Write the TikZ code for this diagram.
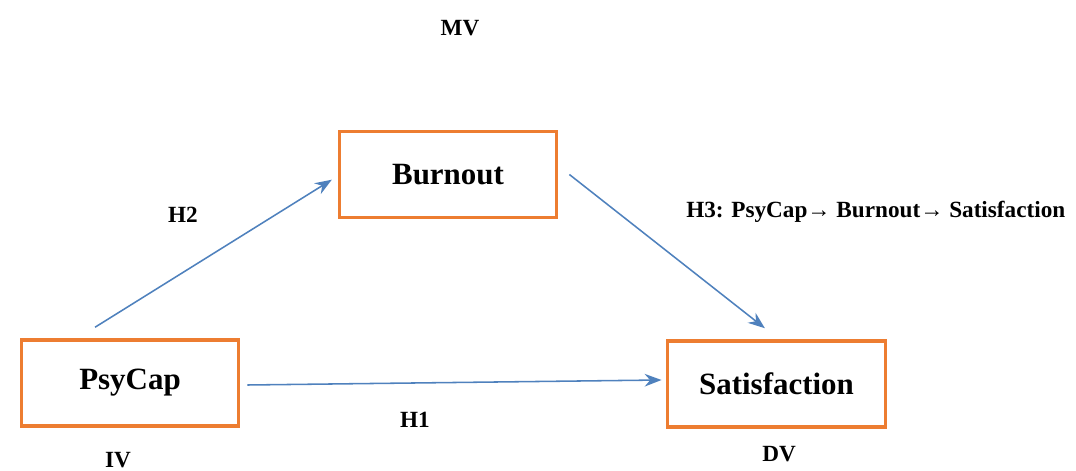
\documentclass[tikz,border=0pt]{standalone}
\usepackage{fontspec}
\setmainfont{Liberation Serif}
\usetikzlibrary{arrows.meta,positioning}
\definecolor{boxorange}{RGB}{237,125,49}
\definecolor{arrowblue}{RGB}{79,129,189}
\tikzset{
    varbox/.style={rectangle, draw=boxorange, line width=2.2pt, fill=white,
        minimum width=5.43cm, minimum height=2.15cm,
        font=\fontsize{22}{26}\selectfont\bfseries},
    hlabel/.style={font=\fontsize{16.5}{20}\selectfont\bfseries, inner sep=0pt}
}
\begin{document}
\begin{tikzpicture}[x=0.025cm, y=-0.025cm, >={Stealth[length=12pt, width=9pt]}]
    \useasboundingbox (0,0) rectangle (1076,471);
    \node (burnout) [varbox] at (448,174.5) {Burnout};
    \node (psycap) [varbox] at (130,383) {PsyCap};
    \node (satisfaction) [varbox] at (776.5,384) {Satisfaction};

    \node (mv) [hlabel] at (460,28) {MV};
    \node (h2) [hlabel] at (183,215) {H2};
    \node (h3) [hlabel, anchor=west] at (686,212) {H3: PsyCap→ Burnout→ Satisfaction};
    \node (h1) [hlabel] at (415,420) {H1};
    \node (iv) [hlabel] at (118,460) {IV};
    \node (dv) [hlabel] at (779,454) {DV};

    \draw[->, arrowblue, line width=1.1pt] ([shift={(1.88cm,0.28cm)}]psycap.north west) -- ([shift={(-0.15cm,-0.13cm)}]burnout.west);
    \draw[->, arrowblue, line width=1.1pt] ([xshift=0.28cm]burnout.east) -- ([shift={(-0.29cm,0.28cm)}]satisfaction.north);
    \draw[->, arrowblue, line width=1.1pt] ([shift={(0.18cm,-0.05cm)}]psycap.east) -- ([shift={(-0.12cm,0.1cm)}]satisfaction.west);
\end{tikzpicture}
\end{document}
